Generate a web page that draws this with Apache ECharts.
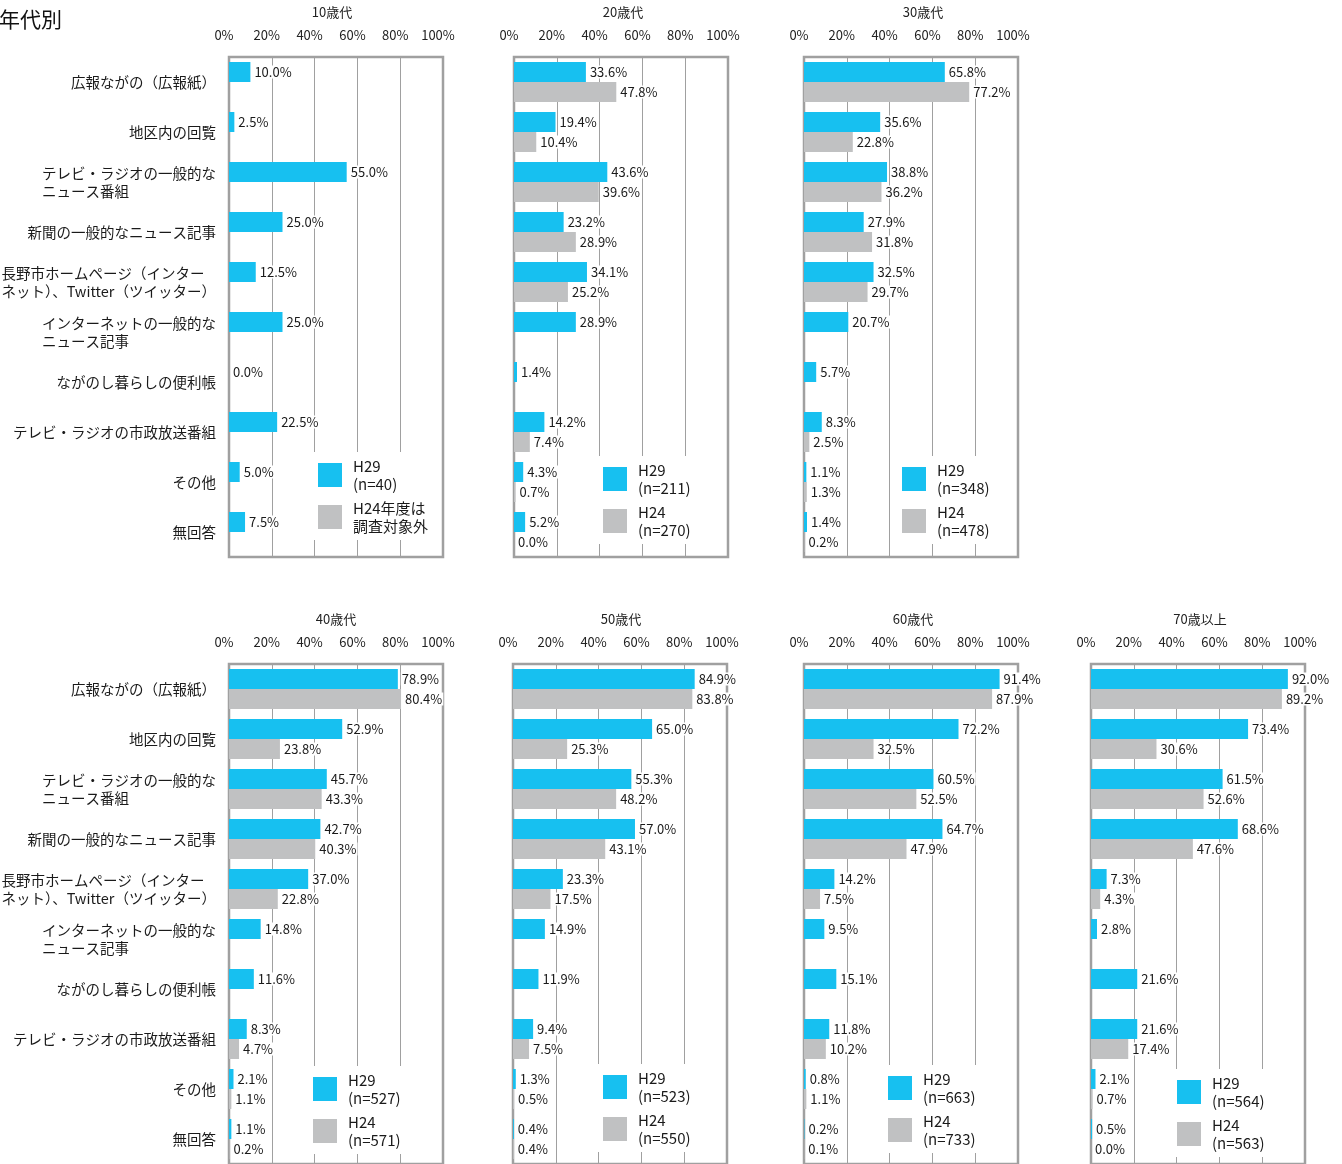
<!DOCTYPE html>
<html>
<head>
<meta charset="utf-8">
<script src="https://cdn.jsdelivr.net/npm/echarts@6/dist/echarts.min.js"></script>
<style>
html,body{margin:0;padding:0;background:#fff;}
#chart{width:1342px;height:1164px;}
</style>
</head>
<body>
<div id="chart"></div>
<script>
const categories = [
  '広報ながの（広報紙）',
  '地区内の回覧',
  'テレビ・ラジオの一般的な\nニュース番組',
  '新聞の一般的なニュース記事',
  '長野市ホームページ（インター\nネット）、Twitter（ツイッター）',
  'インターネットの一般的な\nニュース記事',
  'ながのし暮らしの便利帳',
  'テレビ・ラジオの市政放送番組',
  'その他',
  '無回答'
];
const xTicks = [0, 20, 40, 60, 80, 100];
const panelTitles = ['10歳代', '20歳代', '30歳代', '40歳代', '50歳代', '60歳代', '70歳以上'];

const h29_10s = [10.0, 2.5, 55.0, 25.0, 12.5, 25.0, 0.0, 22.5, 5.0, 7.5];
const h24_10s = [null, null, null, null, null, null, null, null, null, null];
const h29_20s = [33.6, 19.4, 43.6, 23.2, 34.1, 28.9, 1.4, 14.2, 4.3, 5.2];
const h24_20s = [47.8, 10.4, 39.6, 28.9, 25.2, null, null, 7.4, 0.7, 0.0];
const h29_30s = [65.8, 35.6, 38.8, 27.9, 32.5, 20.7, 5.7, 8.3, 1.1, 1.4];
const h24_30s = [77.2, 22.8, 36.2, 31.8, 29.7, null, null, 2.5, 1.3, 0.2];
const h29_40s = [78.9, 52.9, 45.7, 42.7, 37.0, 14.8, 11.6, 8.3, 2.1, 1.1];
const h24_40s = [80.4, 23.8, 43.3, 40.3, 22.8, null, null, 4.7, 1.1, 0.2];
const h29_50s = [84.9, 65.0, 55.3, 57.0, 23.3, 14.9, 11.9, 9.4, 1.3, 0.4];
const h24_50s = [83.8, 25.3, 48.2, 43.1, 17.5, null, null, 7.5, 0.5, 0.4];
const h29_60s = [91.4, 72.2, 60.5, 64.7, 14.2, 9.5, 15.1, 11.8, 0.8, 0.2];
const h24_60s = [87.9, 32.5, 52.5, 47.9, 7.5, null, null, 10.2, 1.1, 0.1];
const h29_70s = [92.0, 73.4, 61.5, 68.6, 7.3, 2.8, 21.6, 21.6, 2.1, 0.5];
const h24_70s = [89.2, 30.6, 52.6, 47.6, 4.3, null, null, 17.4, 0.7, 0.0];

const legendH29 = ['H29\n(n=40)', 'H29\n(n=211)', 'H29\n(n=348)', 'H29\n(n=527)', 'H29\n(n=523)', 'H29\n(n=663)', 'H29\n(n=564)'];
const legendH24 = ['H24年度は\n調査対象外', 'H24\n(n=270)', 'H24\n(n=478)', 'H24\n(n=571)', 'H24\n(n=550)', 'H24\n(n=733)', 'H24\n(n=563)'];

const h29Sets = [h29_10s, h29_20s, h29_30s, h29_40s, h29_50s, h29_60s, h29_70s];
const h24Sets = [h24_10s, h24_20s, h24_30s, h24_40s, h24_50s, h24_60s, h24_70s];

// layout
const FONT = 'Noto Sans CJK JP';
const C29 = '#17C0F0', C24 = '#C0C1C2', BORDER = '#A0A0A0';
const panels = [
  {left: 229, top: 57,  titleX: 332, cats: true,  legL: 310,  legT: 452},
  {left: 514, top: 57,  titleX: 623, cats: false, legL: 595,  legT: 456},
  {left: 804, top: 57,  titleX: 923, cats: false, legL: 894,  legT: 456},
  {left: 229, top: 664, titleX: 336, cats: true,  legL: 305,  legT: 1066},
  {left: 513, top: 664, titleX: 621, cats: false, legL: 595,  legT: 1064},
  {left: 804, top: 664, titleX: 913, cats: false, legL: 880,  legT: 1065},
  {left: 1091,top: 664, titleX: 1200,cats: false, legL: 1169, legT: 1069}
];

const grid = [], xAxis = [], yAxis = [], series = [], legend = [];
const title = [{
  text: '年代別', left: -1, top: 9, padding: 0,
  textStyle: {fontFamily: FONT, fontSize: 21, fontWeight: 'normal', color: '#111'}
}];

const labelCfg = {
  show: true, position: 'right', distance: 3,
  fontFamily: FONT, fontSize: 13, color: '#1a1a1a',
  backgroundColor: '#fff', padding: [0, 1, 0, 1],
  formatter: p => (p.value == null ? '' : Number(p.value).toFixed(1) + '%')
};

panels.forEach((p, i) => {
  grid.push({
    left: p.left, top: p.top, width: 214, height: 500,
    show: true, borderColor: BORDER, borderWidth: 2.5, backgroundColor: 'transparent',
    containLabel: false, outerBoundsMode: 'none'
  });
  title.push({
    text: panelTitles[i], left: p.titleX, top: p.top - 51, textAlign: 'center', padding: 0,
    textStyle: {fontFamily: FONT, fontSize: 13, fontWeight: 'normal', color: '#222'}
  });
  xAxis.push({
    type: 'value', gridIndex: i, position: 'top', min: xTicks[0], max: xTicks[xTicks.length - 1], interval: 20,
    axisLine: {show: false}, axisTick: {show: false},
    splitLine: {show: true, lineStyle: {color: BORDER, width: 1}},
    axisLabel: {
      formatter: '{value}%', fontFamily: FONT, fontSize: 13, color: '#222', margin: 15,
      padding: [0, 10, 0, 0]
    }
  });
  yAxis.push({
    type: 'category', gridIndex: i, data: categories, inverse: true,
    axisLine: {show: false}, axisTick: {show: false},
    axisLabel: {
      show: p.cats, margin: 13, fontFamily: FONT, fontSize: 14.5, color: '#1a1a1a', lineHeight: 18,
      formatter: v => v.split('\n').map(s => '{l|' + s + '}').join('\n'),
      rich: {l: {align: 'left', fontFamily: FONT, fontSize: 14.5, lineHeight: 18, color: '#1a1a1a'}}
    }
  });
  series.push({
    type: 'bar', name: legendH29[i], xAxisIndex: i, yAxisIndex: i,
    data: h29Sets[i], barWidth: 20, barGap: '0%',
    itemStyle: {color: C29}, label: labelCfg, z: 3
  });
  series.push({
    type: 'bar', name: legendH24[i], xAxisIndex: i, yAxisIndex: i,
    data: h24Sets[i], barWidth: 20, barGap: '0%',
    itemStyle: {color: C24}, label: labelCfg, z: 3
  });
  legend.push({
    data: [legendH29[i], legendH24[i]], orient: 'vertical', left: p.legL, top: p.legT,
    itemWidth: 24, itemHeight: 24, itemGap: 6, icon: 'rect',
    backgroundColor: '#fff', padding: [5, 6, 5, 8],
    selectedMode: false,
    textStyle: {fontFamily: FONT, fontSize: 15, lineHeight: 18, color: '#1a1a1a', padding: [0, 0, 0, 6]}
  });
});

const chart = echarts.init(document.getElementById('chart'));
chart.setOption({
  animation: false,
  backgroundColor: '#fff',
  title, grid, xAxis, yAxis, series, legend
});
</script>
</body>
</html>
